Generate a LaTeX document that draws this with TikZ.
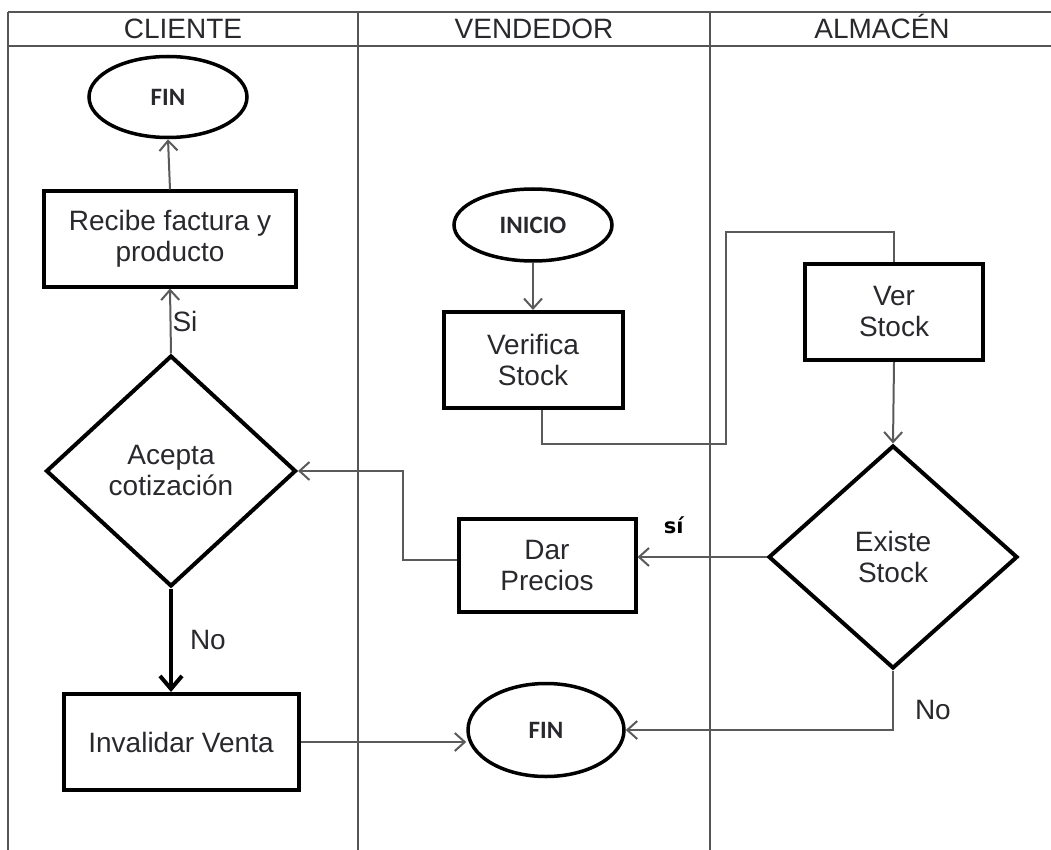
\documentclass[tikz,border=0pt]{standalone}
\usepackage{fontspec}
\setmainfont{Liberation Sans}
\newfontfamily\calfont{Carlito}
\newfontfamily\dejafont{DejaVu Sans}
\usetikzlibrary{shapes.geometric, arrows.meta, positioning}
\definecolor{lanegray}{RGB}{85,85,85}
\definecolor{flowgray}{RGB}{90,90,90}
\definecolor{txtcol}{RGB}{40,40,45}

\begin{document}
\begin{tikzpicture}[x=1pt, y=-1pt,
    >={Straight Barb[length=10pt,width=18pt]},
    lane/.style={draw=lanegray, line width=2pt},
    proc/.style={draw, rectangle, line width=4pt, align=center, inner sep=0pt,
        text=txtcol, font=\fontsize{28pt}{31pt}\selectfont},
    term/.style={draw, ellipse, line width=3.5pt, inner sep=0pt,
        text=txtcol, font=\calfont\bfseries\fontsize{25pt}{28pt}\selectfont},
    decis/.style={draw, diamond, line width=4pt, align=center, inner sep=0pt,
        text=txtcol, font=\fontsize{28pt}{31pt}\selectfont},
    flow/.style={draw=flowgray, line width=2pt},
    lbl/.style={text=txtcol, inner sep=1pt, font=\fontsize{28pt}{31pt}\selectfont},
    lanehead/.style={lbl, anchor=base}]
    \useasboundingbox (0,0) rectangle (1051,850);
    % Carriles
    \draw[lane] (8,12) -- (1051,12);
    \draw[lane] (8,46) -- (1051,46);
    \foreach \x in {8,358,710} \draw[lane] (\x,12) -- (\x,850);
    \node[lanehead] (hcli) at (183,39) {CLIENTE};
    \node[lanehead] (hven) at (534,39) {VENDEDOR};
    \node[lanehead] (halm) at (882,39) {ALMACÉN};
    % Cliente
    \node[term, minimum width=158pt, minimum height=81pt] (finA) at (168,97) {FIN};
    \node[proc, minimum width=252pt, minimum height=95pt] (recibe) at (170,239) {Recibe factura y\\producto};
    \node[decis, minimum width=250pt, minimum height=231pt] (acepta) at (171,471) {Acepta\\cotización};
    \node[proc, minimum width=235pt, minimum height=96pt] (invalidar) at (181,742) {Invalidar Venta};
    % Vendedor
    \node[term, minimum width=158pt, minimum height=72pt] (inicio) at (533,225) {INICIO};
    \node[proc, minimum width=179pt, minimum height=96pt] (verifica) at (533,360) {Verifica\\Stock};
    \node[proc, minimum width=177pt, minimum height=93pt] (dar) at (547,565) {Dar\\Precios};
    \node[term, minimum width=156pt, minimum height=93pt] (finB) at (546,730) {FIN};
    % Almacen
    \node[proc, minimum width=178pt, minimum height=96pt] (verstock) at (894,312) {Ver\\Stock};
    \node[decis, minimum width=249pt, minimum height=223pt] (existe) at (893,557) {Existe\\Stock};
    % Flechas
    \coordinate (codoA) at (726,444);
    \coordinate (codoB) at (726,232);
    \draw[flow, ->] (inicio.south) -- (verifica.north);
    \draw[flow] ([xshift=9pt]verifica.south) |- (codoA) -- (codoB) -| (verstock.north);
    \draw[flow, ->] (verstock.south) -- (existe.north);
    \draw[flow, ->] (existe.west) -- (existe.west -| dar.east)
        node[pos=0.72, above=22pt, inner sep=0pt, text=black, font=\dejafont\bfseries\fontsize{21pt}{24pt}\selectfont] {sí};
    \draw[flow, ->] (existe.south) |- (finB.east) node[lbl, pos=0.33, right=20pt] {No};
    \draw[flow, ->] ([yshift=5pt]dar.west) -- ++(-54,0) |- (acepta.east);
    \draw[flow, ->] (acepta.north) -- (recibe.south) node[lbl, midway, right] {Si};
    \draw[flow, ->] (recibe.north) -- (finA.south);
    \draw[line width=4pt, ->, >={Straight Barb[length=13pt,width=22pt]}] (acepta.south) -- (acepta.south |- invalidar.north)
        node[lbl, pos=0.5, right=16pt] {No};
    \draw[flow, ->] (invalidar.east) -- (invalidar.east -| finB.west);
\end{tikzpicture}
\end{document}
